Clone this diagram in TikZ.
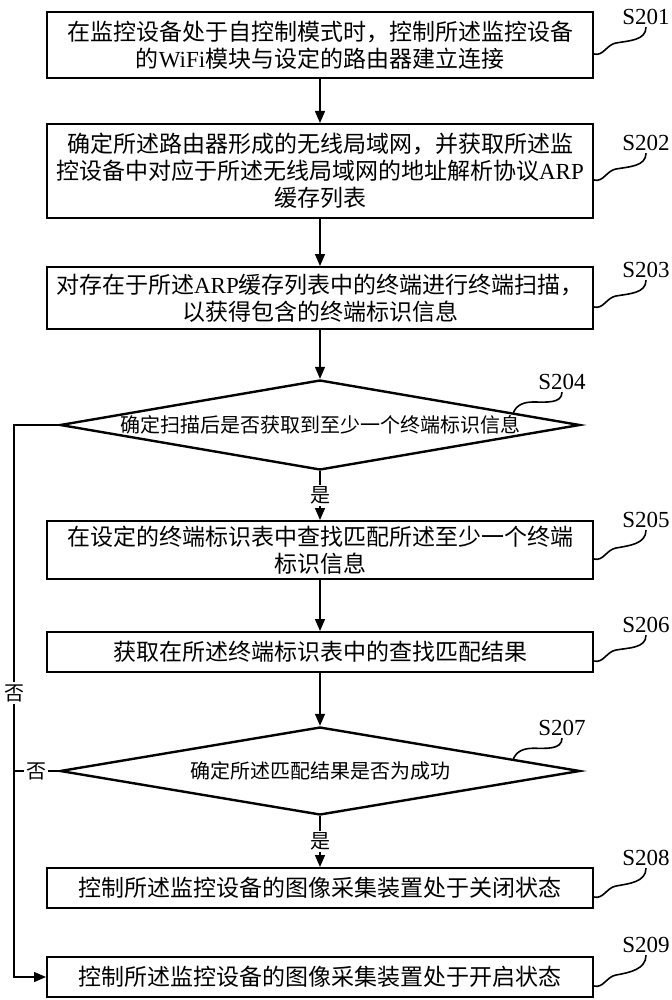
\documentclass[tikz,border=0pt]{standalone}
\usepackage{fontspec}
\setmainfont{Liberation Serif}
\newfontfamily\cjk{Noto Sans CJK SC}
\usepackage{tikz}
\usetikzlibrary{shapes.geometric,arrows.meta,calc}
\newcommand{\lat}[1]{{\rmfamily #1}}
\newcommand{\boxsquig}[2]{\draw[squig] ([yshift=-4.5pt]#1.east) to[out=-15,in=190] ++(11pt,5.5pt) to[out=10,in=-90] (#2.south);}
\newcommand{\testsquig}[2]{\draw[squig] ($(#1.north)!0.74!(#1.east)$) to[out=70,in=180] ++(10pt,5.5pt) to[out=0,in=-90] (#2.south);}

\begin{document}
\begin{tikzpicture}[x=0.5pt,y=-0.5pt,
    stepbox/.style={draw,line width=1pt,minimum width=273pt,inner sep=0pt,align=center,
      font=\cjk\fontsize{11.5}{13.5}\selectfont},
    testbox/.style={diamond,draw,line width=1.2pt,minimum width=260pt,inner sep=0pt},
    testtext/.style={font=\cjk\fontsize{10}{12}\selectfont},
    flow/.style={line width=0.7pt,-{Triangle[length=6pt,width=5pt]}},
    lbl/.style={font=\cjk\fontsize{10}{12}\selectfont,fill=white,inner sep=1pt},
    tag/.style={font=\fontsize{11.5}{13}\selectfont,inner sep=1pt},
    squig/.style={line width=0.8pt}]
  \useasboundingbox (0,0) rectangle (671,1000);

  \node[stepbox,minimum height=33pt] (b1) at (320,45)
    {在监控设备处于自控制模式时，控制所述监控设备\\的\lat{WiFi}模块与设定的路由器建立连接};
  \node[stepbox,minimum height=47pt] (b2) at (320,171)
    {确定所述路由器形成的无线局域网，并获取所述监\\控设备中对应于所述无线局域网的地址解析协议\lat{ARP}\\缓存列表};
  \node[stepbox,minimum height=31pt] (b3) at (320,298)
    {对存在于所述\lat{ARP}缓存列表中的终端进行终端扫描，\\以获得包含的终端标识信息};
  \node[testbox,minimum height=45pt,
    label={[testtext]center:确定扫描后是否获取到至少一个终端标识信息}] (d1) at (320,425) {};
  \node[stepbox,minimum height=29pt] (b5) at (320,550)
    {在设定的终端标识表中查找匹配所述至少一个终端\\标识信息};
  \node[stepbox,minimum height=20pt] (b6) at (320,652)
    {获取在所述终端标识表中的查找匹配结果};
  \node[testbox,minimum height=44pt,
    label={[testtext]center:确定所述匹配结果是否为成功}] (d2) at (320,771) {};
  \node[stepbox,minimum height=20pt] (b8) at (320,888)
    {控制所述监控设备的图像采集装置处于关闭状态};
  \node[stepbox,minimum height=20pt] (b9) at (320,977)
    {控制所述监控设备的图像采集装置处于开启状态};

  % step numbers
  \node[tag] (s201) at (646,17) {S201};
  \node[tag] (s202) at (646,143) {S202};
  \node[tag] (s203) at (646,270) {S203};
  \node[tag] (s204) at (562,382) {S204};
  \node[tag] (s205) at (646,520) {S205};
  \node[tag] (s206) at (646,625) {S206};
  \node[tag] (s207) at (562,728) {S207};
  \node[tag] (s208) at (646,858) {S208};
  \node[tag] (s209) at (646,945) {S209};
  \boxsquig{b1}{s201}
  \boxsquig{b2}{s202}
  \boxsquig{b3}{s203}
  \testsquig{d1}{s204}
  \boxsquig{b5}{s205}
  \boxsquig{b6}{s206}
  \testsquig{d2}{s207}
  \boxsquig{b8}{s208}
  \boxsquig{b9}{s209}

  \draw[flow] (b1) -- (b2);
  \draw[flow] (b2) -- (b3);
  \draw[flow] (b3) -- (d1);
  \draw[flow] (d1) -- (b5) node[lbl,midway] (yes1) {是};
  \draw[flow] (b5) -- (b6);
  \draw[flow] (b6) -- (d2);
  \draw[flow] (d2) -- (b8) node[lbl,midway] (yes2) {是};

  % no branches
  \coordinate (lft) at (14,425);
  \draw[flow] (d1.west) -- (lft) |- (b9.west);
  \node[lbl] (no1) at (14,693) {否};
  \draw[line width=0.7pt] (d2.west) -- (d2.west -| lft) node[lbl,midway] (no2) {否};
\end{tikzpicture}
\end{document}
